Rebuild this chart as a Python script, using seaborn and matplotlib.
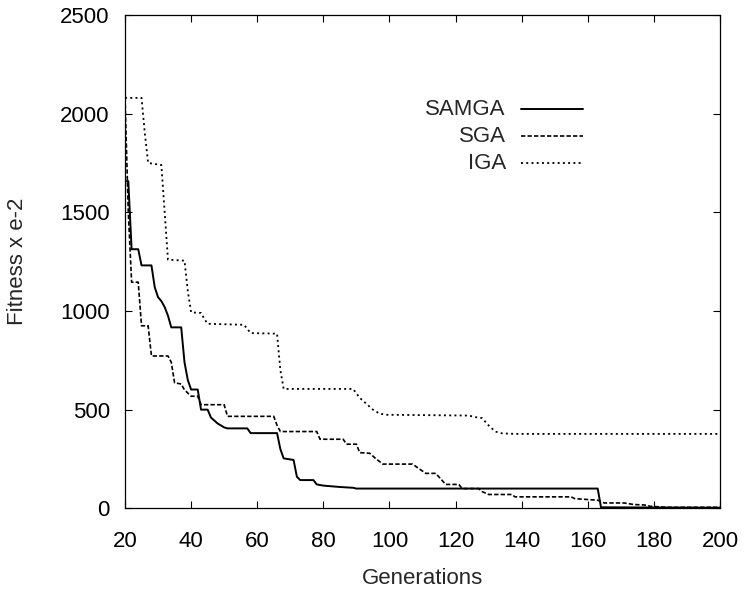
import numpy as np
import pandas as pd
import matplotlib
matplotlib.use("Agg")
import matplotlib.pyplot as plt
import seaborn as sns

# ---- data ----
samga_gen = [20, 21, 22, 24, 25, 28, 29, 30, 31, 32, 33, 34, 37, 38, 39, 40, 42, 43, 45,
             46, 47, 48, 49, 50, 51, 57, 58, 66, 67, 68, 71, 72, 73, 77, 78, 80, 85, 89,
             90, 163, 164, 200]
samga_fit = [1658, 1658, 1313, 1313, 1231, 1231, 1120, 1070, 1050, 1020, 976, 917, 917,
             740, 650, 602, 602, 500, 500, 460, 445, 430, 420, 410, 405, 405, 381, 381,
             300, 253, 245, 160, 143, 143, 121, 115, 108, 104, 100, 100, 5, 3]

sga_gen = [20, 21, 22, 24, 25, 27, 28, 33, 34, 35, 37, 38, 40, 42, 43, 50, 51, 65, 66, 67,
           78, 79, 86, 87, 90, 91, 94, 96, 98, 107, 109, 111, 114, 116, 117, 121, 122, 127,
           128, 130, 137, 138, 155, 156, 163, 165, 171, 174, 177, 179, 184, 200]
sga_fit = [2080, 1500, 1146, 1146, 925, 925, 772, 772, 740, 636, 630, 600, 568, 568, 525,
           525, 466, 466, 420, 389, 389, 350, 350, 325, 325, 282, 279, 250, 224, 224, 200,
           177, 177, 140, 121, 121, 100, 100, 85, 70, 70, 58, 58, 49, 41, 27, 27, 19, 17,
           10, 5, 5]

iga_gen = [20, 25, 26, 27, 31, 32, 33, 38, 39, 40, 43, 44, 45, 56, 58, 66, 67, 68, 89, 91,
           93, 95, 97, 99, 124, 126, 128, 130, 132, 134, 138, 200]
iga_fit = [2080, 2080, 1900, 1750, 1740, 1500, 1260, 1255, 1100, 993, 990, 960, 935, 930,
           888, 885, 700, 605, 605, 560, 530, 500, 480, 474, 470, 462, 457, 420, 389, 380,
           377, 377]

series_names = ["SAMGA", "SGA", "IGA"]
x_ticks = [20, 40, 60, 80, 100, 120, 140, 160, 180, 200]
y_ticks = [0, 500, 1000, 1500, 2000, 2500]
x_label = "Generations"
y_label = "Fitness x e-2"

df = pd.concat([
    pd.DataFrame({"Generation": samga_gen, "Fitness": samga_fit, "Algorithm": "SAMGA"}),
    pd.DataFrame({"Generation": sga_gen, "Fitness": sga_fit, "Algorithm": "SGA"}),
    pd.DataFrame({"Generation": iga_gen, "Fitness": iga_fit, "Algorithm": "IGA"}),
], ignore_index=True)

# ---- styling ----
sns.set_style("ticks")
plt.rcParams["font.family"] = ["Liberation Sans", "DejaVu Sans"]
plt.rcParams["font.size"] = 16

dash_map = {"SAMGA": "", "SGA": (2.6, 1.3), "IGA": (1.1, 1.8)}
lw_map = {"SAMGA": 1.4, "SGA": 1.2, "IGA": 1.3}

fig = plt.figure(figsize=(7.44, 5.93), dpi=100)
ax = fig.add_axes([125 / 744, 1 - 508.3 / 593, (720 - 125) / 744, (508.3 - 15) / 593])

sns.lineplot(data=df, x="Generation", y="Fitness", hue="Algorithm", style="Algorithm",
             hue_order=series_names, style_order=series_names,
             palette={n: "black" for n in series_names}, dashes=dash_map,
             estimator=None, sort=False, legend=False, ax=ax)

for line, name in zip(ax.lines, series_names):
    line.set_linewidth(lw_map[name])

ax.set_xlim(x_ticks[0], x_ticks[-1])
ax.set_ylim(y_ticks[0], y_ticks[-1])
ax.set_xticks(x_ticks)
ax.set_yticks(y_ticks)
ax.tick_params(direction="in", length=5, width=0.8, top=True, right=True,
               labelsize=16, colors="black")
ax.tick_params(axis="x", pad=16)
ax.tick_params(axis="y", pad=11)
for sp in ax.spines.values():
    sp.set_visible(True)
    sp.set_linewidth(0.9)
    sp.set_color("black")

ax.set_xlabel(x_label, fontsize=16, labelpad=12)
ax.set_ylabel(y_label, fontsize=16, labelpad=23)

# ---- gnuplot-style key (right-aligned labels, sample to the right) ----
key_y = [0.8092, 0.7537, 0.6999]
for name, ky in zip(series_names, key_y):
    ax.text(0.640, ky, name, transform=ax.transAxes, ha="right", va="center", fontsize=16)
    ls = "-" if dash_map[name] == "" else (0, dash_map[name])
    ax.plot([0.665, 0.770], [ky, ky], transform=ax.transAxes, color="black",
            linestyle=ls, linewidth=lw_map[name])

fig.savefig("out.png", dpi=100)
